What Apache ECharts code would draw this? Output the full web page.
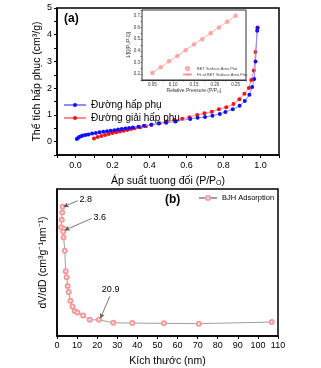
<!DOCTYPE html>
<html><head><meta charset="utf-8">
<script src="https://cdn.jsdelivr.net/npm/echarts@6/dist/echarts.min.js"></script>
<style>html,body{margin:0;padding:0;background:#fff}#c{width:321px;height:368px}</style>
</head><body><div id="c"></div>
<script>
// Panel (a) isotherm
const adsP = [0.007,0.012,0.02,0.03,0.04,0.055,0.07,0.09,0.11,0.13,0.15,0.17,0.19,0.21,0.23,0.25,0.27,0.29,0.31,0.34,0.37,0.41,0.45,0.49,0.54,0.62,0.66,0.70,0.74,0.78,0.81,0.85,0.887,0.915,0.94,0.955,0.966,0.973,0.982,0.984];
const adsV = [0.10,0.13,0.17,0.20,0.23,0.25,0.27,0.30,0.32,0.35,0.37,0.39,0.41,0.43,0.45,0.47,0.49,0.51,0.53,0.56,0.59,0.63,0.68,0.71,0.75,0.85,0.89,0.92,0.97,1.03,1.11,1.21,1.34,1.52,1.75,2.04,2.34,3.00,4.15,4.25];
const desP = [0.10,0.12,0.14,0.16,0.18,0.20,0.22,0.24,0.26,0.28,0.30,0.32,0.35,0.38,0.41,0.454,0.494,0.535,0.577,0.616,0.658,0.697,0.737,0.775,0.815,0.854,0.886,0.913,0.937,0.95,0.964,0.973,0.984];
const desV = [0.12,0.17,0.21,0.25,0.29,0.32,0.35,0.38,0.41,0.44,0.47,0.50,0.54,0.58,0.63,0.69,0.75,0.81,0.86,0.91,1.00,1.06,1.12,1.21,1.29,1.41,1.59,1.79,2.01,2.31,2.66,3.35,4.27];
// Inset BET plot
const betP = [0.05,0.07,0.09,0.11,0.13,0.15,0.17,0.19,0.21,0.23,0.25];
const betV = [0.21,0.26,0.31,0.355,0.405,0.455,0.50,0.55,0.60,0.65,0.70];
const fitP = [0.05,0.25];
const fitV = [0.21,0.70];
// Panel (b) BJH
const bjhSize = [2.8,2.6,2.4,2.1,3.6,3.1,3.3,3.9,4.3,4.8,5.3,5.8,6.7,7.7,8.8,10.2,13.0,16.3,20.9,28.0,37.5,53.2,70.6,106.9];
const bjhVal  = [0.88,0.84,0.79,0.74,0.73,0.71,0.67,0.58,0.44,0.40,0.34,0.30,0.24,0.20,0.17,0.16,0.14,0.11,0.11,0.09,0.088,0.086,0.084,0.095];
// annotations: [label, labelX, labelY, pointX, pointY]
const notes = [["2.8",10.3,0.92,3.3,0.88],["3.6",17.3,0.80,3.9,0.72],["20.9",26.3,0.27,21.6,0.12]];

const F = 'Liberation Sans, Arial, sans-serif';
const zip = (a,b)=>a.map((v,i)=>[v,b[i]]);
const ch = echarts.init(document.getElementById('c'), null, {renderer:'canvas'});
const axLine = {show:true, onZero:false, lineStyle:{color:'#000', width:1.5}};
const inLine = {show:true, onZero:false, lineStyle:{color:'#333', width:1}};
const opt = {
  animation:false,
  backgroundColor:'#fff',
  textStyle:{fontFamily:F},
  title:[
    {text:'(a)', left:59, top:8, textStyle:{fontSize:12, fontWeight:'bold', color:'#000', fontFamily:F}},
    {text:'(b)', left:160, top:189, textStyle:{fontSize:12, fontWeight:'bold', color:'#000', fontFamily:F}}
  ],
  grid:[
    {left:57, top:8, width:222, height:147, show:true, borderColor:'#000', borderWidth:1.5, z:0},
    {left:142, top:10, width:104, height:70, show:true, backgroundColor:'#fff', borderColor:'#333', borderWidth:1, z:5},
    {left:57, top:189, width:221, height:148, show:true, borderColor:'#000', borderWidth:1.5, z:0}
  ],
  legend:[
    {orient:'vertical', left:58, top:95, itemGap:3, itemWidth:22, itemHeight:5,
     textStyle:{fontSize:10, color:'#000', fontFamily:F},
     data:['Đường hấp phụ','Đường giải hấp phụ']},
    {orient:'vertical', left:182, top:66, itemGap:1, itemWidth:9, itemHeight:3, z:10, padding:0,
     textStyle:{fontSize:4, lineHeight:5, color:'#444', fontFamily:F},
     data:['BET Surface Area Plot','Fit of BET Surface Area Plot']},
    {left:193, top:189, itemWidth:18, itemHeight:5, itemGap:2,
     textStyle:{fontSize:7.5, color:'#000', fontFamily:F},
     data:['BJH Adsorption']}
  ],
  xAxis:[
    {gridIndex:0, type:'value', min:-0.1, max:1.1, interval:0.1,
     name:'Áp suất tuong đối (P/P{s|O})', nameLocation:'middle', nameGap:20, nameMoveOverlap:false,
     nameTextStyle:{fontSize:10.5, color:'#000', fontFamily:F, rich:{s:{fontSize:7, padding:[5,0,0,0]}}},
     axisLine:axLine, axisTick:{show:true, length:3, lineStyle:{color:'#000'}}, splitLine:{show:false},
     axisLabel:{fontSize:9, color:'#000', margin:6, fontFamily:F,
       formatter:v=>{const k=Math.round(v*10); return (k%2===0 && k>=0 && k<=10)? (k/10).toFixed(1):'';}}},
    {gridIndex:1, type:'value', min:0.025, max:0.275, interval:0.025,
     name:'Relative Pressure (P/P{s|O})', nameLocation:'middle', nameGap:8, nameMoveOverlap:false,
     nameTextStyle:{fontSize:5, color:'#333', fontFamily:F, rich:{s:{fontSize:3.5, padding:[2,0,0,0]}}},
     axisLine:inLine, axisTick:{show:true, length:1.5, lineStyle:{color:'#333', width:0.6}}, splitLine:{show:false},
     axisLabel:{fontSize:4.5, color:'#333', margin:2,
       formatter:v=>{const k=Math.round(v*1000); return (k%50===0)? (k/1000).toFixed(2):'';}}},
    {gridIndex:2, type:'value', min:0, max:110, interval:10,
     name:'Kích thước (nm)', nameLocation:'middle', nameGap:20, nameMoveOverlap:false,
     nameTextStyle:{fontSize:10.5, color:'#000', fontFamily:F},
     axisLine:axLine, axisTick:{show:true, length:3, lineStyle:{color:'#000'}}, splitLine:{show:false},
     axisLabel:{fontSize:9, color:'#000', margin:5, fontFamily:F}}
  ],
  yAxis:[
    {gridIndex:0, type:'value', min:-0.5, max:5, interval:0.5,
     name:'Thể tích hấp phục (cm³/g)', nameLocation:'middle', nameGap:14, nameMoveOverlap:false,
     nameTextStyle:{fontSize:10.5, color:'#000', fontFamily:F},
     axisLine:axLine, axisTick:{show:true, length:3, lineStyle:{color:'#000'}}, splitLine:{show:false},
     axisLabel:{fontSize:9, color:'#000', margin:5, fontFamily:F,
       formatter:v=>{const k=Math.round(v*10); return (k%10===0)? String(k/10):'';}}},
    {gridIndex:1, type:'value', min:0.15, max:0.75, interval:0.05,
     name:'1/[Q(P₀/P-1)]', nameLocation:'middle', nameGap:11, nameMoveOverlap:false,
     nameTextStyle:{fontSize:4.5, color:'#333', fontFamily:F},
     axisLine:inLine, axisTick:{show:true, length:1.5, lineStyle:{color:'#333', width:0.6}}, splitLine:{show:false},
     axisLabel:{fontSize:4.5, color:'#333', margin:2,
       formatter:v=>{const k=Math.round(v*100); return (k%10===0)? (k/100).toFixed(1):'';}}},
    {gridIndex:2, type:'value', min:0, max:1,
     name:'dV/dD (cm³g⁻¹nm⁻¹)', nameLocation:'middle', nameGap:8, nameMoveOverlap:false,
     nameTextStyle:{fontSize:10.5, color:'#000', fontFamily:F},
     axisLine:axLine, axisTick:{show:false}, splitLine:{show:false}, axisLabel:{show:false}}
  ],
  series:[
    {name:'Đường hấp phụ', type:'line', xAxisIndex:0, yAxisIndex:0, data:zip(adsP,adsV),
     symbol:'circle', symbolSize:4, itemStyle:{color:'#1010ff'}, lineStyle:{color:'#8c8cff', width:1}, z:3},
    {name:'Đường giải hấp phụ', type:'line', xAxisIndex:0, yAxisIndex:0, data:zip(desP,desV),
     symbol:'circle', symbolSize:4, itemStyle:{color:'#ff1010'}, lineStyle:{color:'#ff8c8c', width:1}, z:2},
    {name:'BET Surface Area Plot', type:'scatter', xAxisIndex:1, yAxisIndex:1, data:zip(betP,betV),
     symbol:'emptyCircle', symbolSize:2.5, itemStyle:{color:'#ff9090', borderWidth:0.6}, z:6},
    {name:'Fit of BET Surface Area Plot', type:'line', xAxisIndex:1, yAxisIndex:1, data:zip(fitP,fitV),
     symbol:'none', lineStyle:{color:'#ff9a9a', width:0.8}, itemStyle:{color:'#ff9a9a'}, z:6},
    {name:'BJH Adsorption', type:'line', xAxisIndex:2, yAxisIndex:2, data:zip(bjhSize,bjhVal),
     symbol:'emptyCircle', symbolSize:4, itemStyle:{color:'#f59a9a', borderWidth:0.9}, lineStyle:{color:'#a0a0a0', width:1},
     markLine:{silent:true, symbol:['none','arrow'], symbolSize:[4,5], animation:false,
       lineStyle:{color:'#555', width:0.8, type:'solid'},
       label:{show:true, position:'start', color:'#000', fontSize:9, fontFamily:F, distance:2,
         formatter:p=>p.name},
       data:notes.map(n=>[{name:n[0], coord:[n[1],n[2]]},{coord:[n[3],n[4]]}])}}
  ]
};
ch.setOption(opt);
</script></body></html>
